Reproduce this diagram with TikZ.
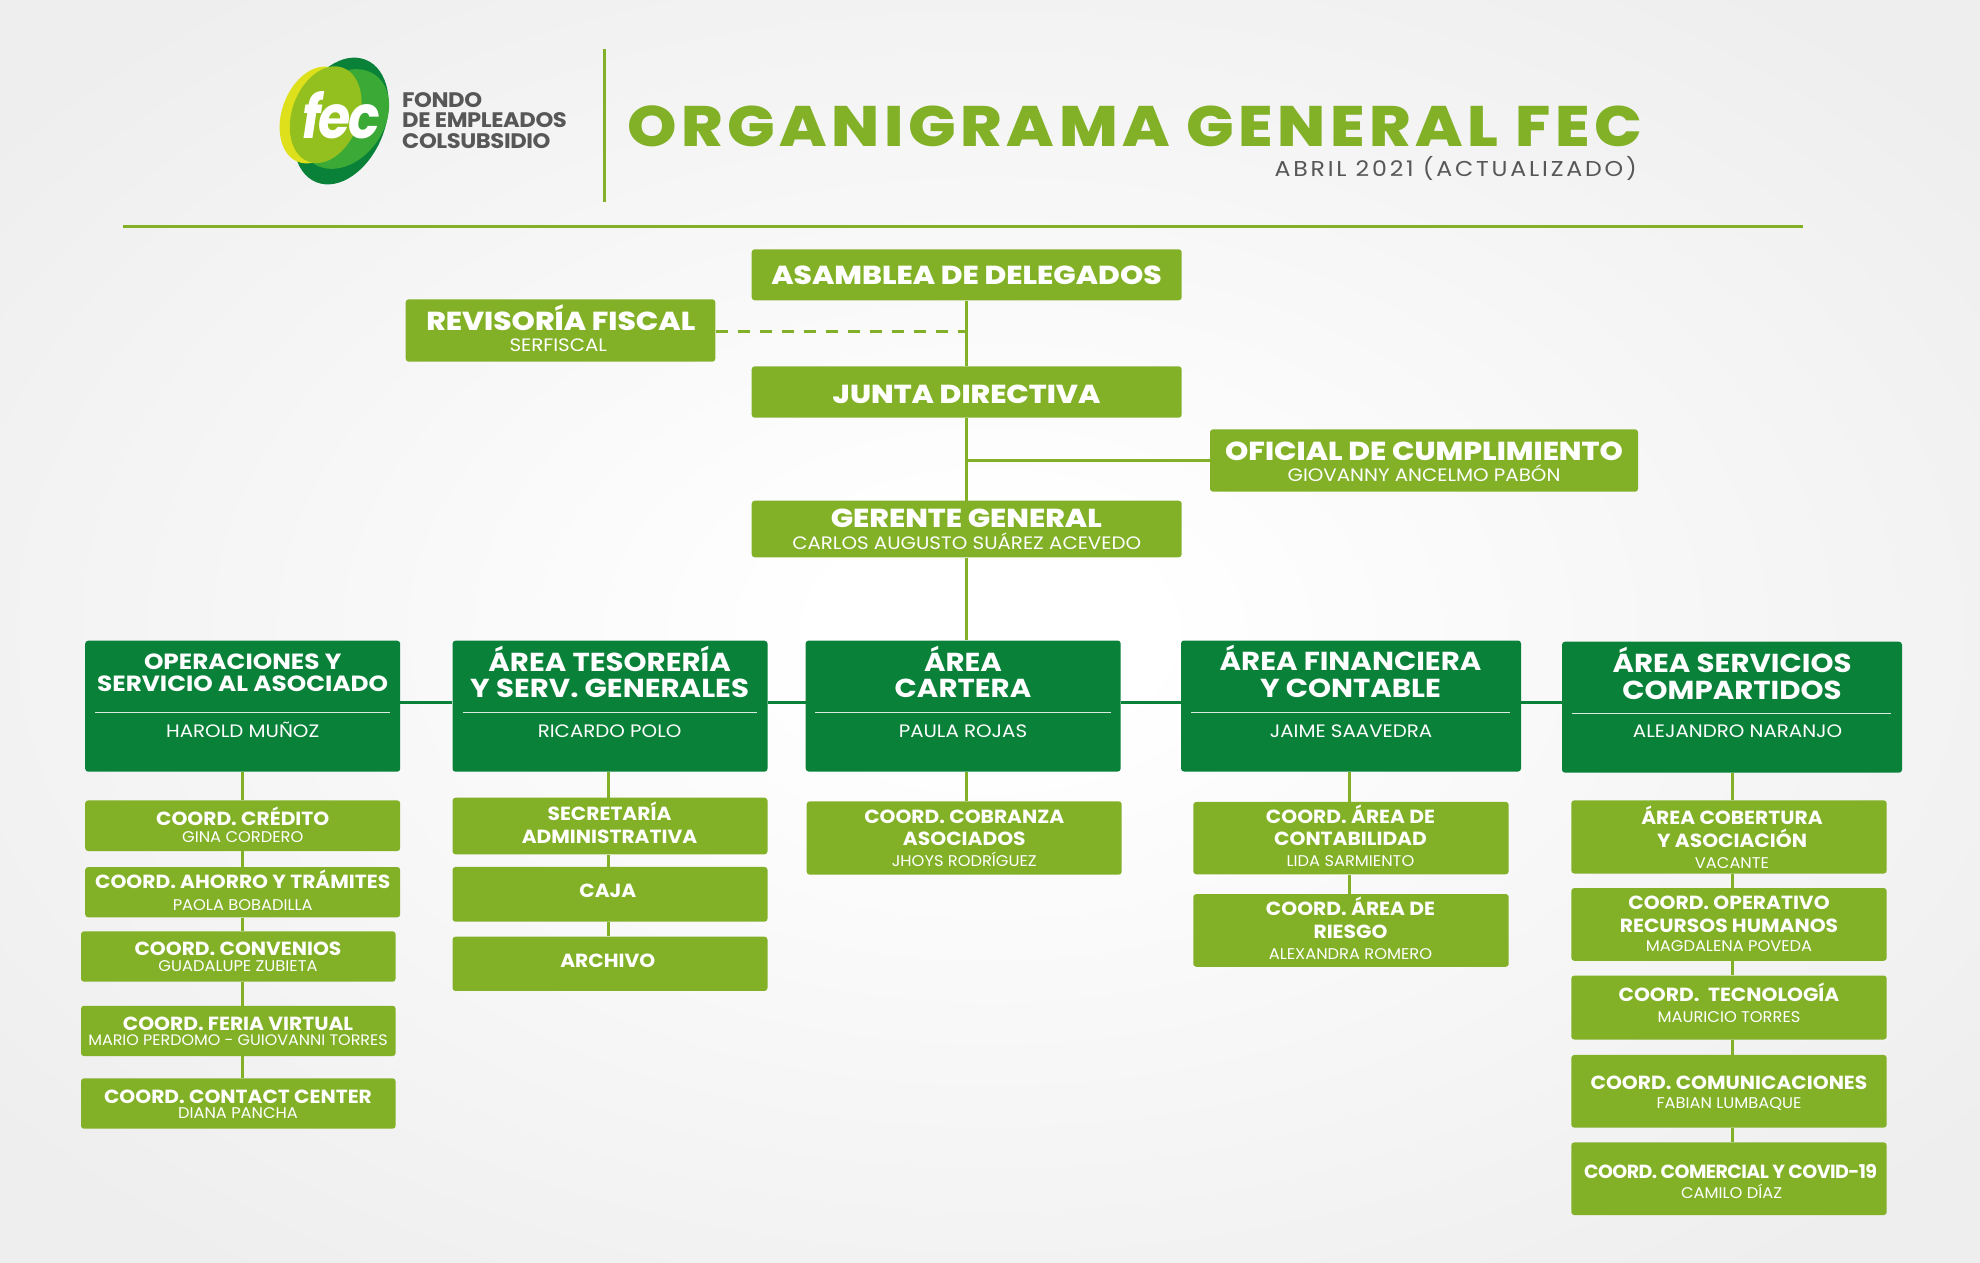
\documentclass[tikz,border=0pt]{standalone}
\usepackage{fontspec}
\setmainfont{Poppins}
\newfontfamily\titlefnt[LetterSpace=8,FakeStretch=1.104]{Poppins ExtraBold}
\newfontfamily\heavyfnt[FakeStretch=1.14]{Poppins ExtraBold}
\newfontfamily\areafnt[FakeStretch=1.125]{Poppins}
\newfontfamily\coordfnt[FakeStretch=1.065]{Poppins}
\newfontfamily\namefnt[FakeStretch=1.1]{Poppins}
\newfontfamily\smallfnt[FakeStretch=1.05]{Poppins}
\newfontfamily\datefnt[FakeStretch=1.1,LetterSpace=13]{Poppins}
\newfontfamily\logofnt[FakeStretch=0.87,LetterSpace=-4]{Poppins}
\newfontfamily\brandfnt[FakeStretch=1.08,LetterSpace=-2]{Poppins}
\newfontfamily\tightfnt[LetterSpace=-3]{Poppins}
\definecolor{fecLight}{HTML}{82B128}
\definecolor{fecDark}{HTML}{0A8139}
\definecolor{fecMid}{HTML}{3AA935}
\definecolor{fecOlive}{HTML}{93C01F}
\definecolor{fecYellow}{HTML}{DDE01A}
\definecolor{fecGrey}{HTML}{575757}
\definecolor{bgEdge}{HTML}{EEEEEE}
\pgfdeclareradialshading{bgshade}{\pgfpoint{0bp}{0bp}}{color(0bp)=(white); color(4bp)=(white); color(32bp)=(bgEdge); color(50bp)=(bgEdge)}
\tikzset{
  font={\fontsize{19pt}{22.5pt}\selectfont},
  lightbox/.style={fill=fecLight, rounded corners=3pt, inner sep=0pt},
  darkbox/.style={fill=fecDark, rounded corners=3pt, inner sep=0pt},
  toptxt/.style={text=white, anchor=base, align=center, inner sep=0pt, font={\heavyfnt\fontsize{26pt}{26.7pt}\selectfont}},
  areatxt/.style={text=white, anchor=base, align=center, inner sep=0pt, font={\areafnt\bfseries\fontsize{26pt}{26.7pt}\selectfont}},
  coordtxt/.style={text=white, anchor=base, align=center, inner sep=0pt, font={\coordfnt\bfseries\fontsize{19pt}{22.5pt}\selectfont}},
  nametxt/.style={text=white, anchor=base, inner sep=0pt, font={\namefnt\fontsize{18pt}{20pt}\selectfont}},
  subtxt/.style={text=white, anchor=base, inner sep=0pt, font={\smallfnt\fontsize{15.5pt}{18pt}\selectfont}},
  brandtxt/.style={anchor=base west, inner sep=0pt, text=fecGrey, font={\brandfnt\bfseries\fontsize{21pt}{21pt}\selectfont}},
  lightline/.style={draw=fecLight, line width=3pt},
  darkline/.style={draw=fecDark, line width=3pt},
  sepline/.style={draw=white!85!fecDark, line width=1pt}
}

\begin{document}
\begin{tikzpicture}[x=1pt, y=-1pt]
\useasboundingbox (0,0) rectangle (1980,1262);
\shade[shading=bgshade] (0,0) rectangle (1980,1262);

%% logo
\begin{scope}
	\fill[fecDark, shift={(341,121)}, rotate=68] (0,0) ellipse (66 and 44);
	\fill[fecMid, shift={(344,119)}, rotate=55] (0,0) ellipse (54 and 40);
	\fill[fecYellow, shift={(315.5,115)}, rotate=70] (0,0) ellipse (50 and 33.6);
	\fill[fecOlive, shift={(325.7,114.7)}, rotate=70] (0,0) ellipse (50 and 33.6);
\end{scope}
\node[anchor=base, inner sep=0pt, text=white, font={\logofnt\bfseries\itshape\fontsize{60pt}{60pt}\selectfont}] (fec) at (341,138) {fec};
\node[brandtxt] (fondo) at (402,107.3) {FONDO};
\node[brandtxt] (empleados) at (402,127.7) {DE EMPLEADOS};
\node[brandtxt] (colsubsidio) at (402,148.3) {COLSUBSIDIO};

%% title and the two rules of the header
\node[anchor=base east, inner sep=0pt, text=fecLight, font={\titlefnt\fontsize{57pt}{57pt}\selectfont}] (titulo) at (1642,146) {ORGANIGRAMA GENERAL FEC};
\node[anchor=base east, inner sep=0pt, text=fecGrey, font={\datefnt\fontsize{21.5pt}{24pt}\selectfont}] (fecha) at (1637,176.7) {ABRIL 2021 (ACTUALIZADO)};
\coordinate (ruleA) at (604.7,49.3);
\coordinate (ruleB) at (604.7,201.7);
\coordinate (ruleC) at (122.5,226.3);
\coordinate (ruleD) at (1803.3,226.3);
\draw[lightline] (ruleA) -- (ruleB);
\draw[lightline] (ruleC) -- (ruleD);

%% top of the chart
\node[lightbox, minimum width=430pt, minimum height=51pt] (asamblea) at (966.7,274.8) {};
\node[lightbox, minimum width=309.6pt, minimum height=62.4pt] (revisoria) at (560.5,330.5) {};
\node[lightbox, minimum width=430pt, minimum height=51.4pt] (junta) at (966.7,392) {};
\node[lightbox, minimum width=428pt, minimum height=62.4pt] (oficial) at (1424,460.5) {};
\node[lightbox, minimum width=430pt, minimum height=56.6pt] (gerente) at (966.7,529) {};
\node[toptxt] (asambleatxt) at (966.5,284.3) {ASAMBLEA DE DELEGADOS};
\node[toptxt] (revisoriatxt) at (560.8,330) {REVISORÍA FISCAL};
\node[nametxt] (revisorianame) at (558.3,351.7) {SERFISCAL};
\node[toptxt] (juntatxt) at (966.6,403.3) {JUNTA DIRECTIVA};
\node[toptxt] (oficialtxt) at (1424,460) {OFICIAL DE CUMPLIMIENTO};
\node[nametxt] (oficialname) at (1424,481.7) {GIOVANNY ANCELMO PABÓN};
\node[toptxt] (gerentetxt) at (966.3,527.7) {GERENTE GENERAL};
\node[nametxt] (gerentename) at (966.7,549.3) {CARLOS AUGUSTO SUÁREZ ACEVEDO};

%% the five areas
\node[darkbox, minimum width=315pt, minimum height=131pt] (operaciones) at (242.7,706.2) {};
\node[darkbox, minimum width=315pt, minimum height=131pt] (tesoreria) at (610,706.2) {};
\node[darkbox, minimum width=315pt, minimum height=131pt] (cartera) at (963.2,706) {};
\node[darkbox, minimum width=340pt, minimum height=131pt] (financiera) at (1351,706) {};
\node[darkbox, minimum width=340pt, minimum height=131pt] (servicios) at (1732,707.2) {};
\node[areatxt, font={\areafnt\bfseries\fontsize{22pt}{21.7pt}\selectfont}] (operacionestxt) at (242.7,691) {OPERACIONES Y\\SERVICIO AL ASOCIADO};
\node[areatxt] (tesoreriatxt) at (609.6,697.7) {ÁREA TESORERÍA\\Y SERV. GENERALES};
\node[areatxt] (carteratxt) at (963,697.7) {ÁREA\\CARTERA};
\node[areatxt] (financieratxt) at (1350.5,697.5) {ÁREA FINANCIERA\\Y CONTABLE};
\node[areatxt] (serviciostxt) at (1732,699) {ÁREA SERVICIOS\\COMPARTIDOS};
\node[nametxt] (operacionesname) at (242.7,737.7) {HAROLD MUÑOZ};
\node[nametxt] (tesorerianame) at (609.6,737.7) {RICARDO POLO};
\node[nametxt] (carteraname) at (963,737.7) {PAULA ROJAS};
\node[nametxt] (financieraname) at (1351,737.7) {JAIME SAAVEDRA};
\node[nametxt] (serviciosname) at (1737.6,737.7) {ALEJANDRO NARANJO};
\draw[sepline] (95.4,712.3) -- (390,712.3);
\draw[sepline] (462.7,712.3) -- (757,712.3);
\draw[sepline] (815.3,712.3) -- (1110.7,712.3);
\draw[sepline] (1191.3,712.3) -- (1510,712.3);
\draw[sepline] (1572.4,713.3) -- (1891.3,713.3);

%% first column
\node[lightbox, minimum width=315pt, minimum height=50.7pt] (credito) at (242.7,825.7) {};
\node[lightbox, minimum width=315pt, minimum height=50.3pt] (ahorro) at (242.7,892.2) {};
\node[lightbox, minimum width=314.6pt, minimum height=50.4pt] (convenios) at (238.3,956.5) {};
\node[lightbox, minimum width=314.6pt, minimum height=50.3pt] (feria) at (238.3,1030.9) {};
\node[lightbox, minimum width=314.6pt, minimum height=50.4pt] (contact) at (238.3,1103.5) {};
\node[coordtxt] (creditotxt) at (242.7,825.7) {COORD. CRÉDITO};
\node[subtxt] (creditoname) at (242.7,842.3) {GINA CORDERO};
\node[coordtxt] (ahorrotxt) at (242.7,888.3) {COORD. AHORRO Y TRÁMITES};
\node[subtxt] (ahorroname) at (242.7,910.3) {PAOLA BOBADILLA};
\node[coordtxt] (conveniostxt) at (238,955.3) {COORD. CONVENIOS};
\node[subtxt] (conveniosname) at (238,971.7) {GUADALUPE ZUBIETA};
\node[coordtxt] (feriatxt) at (238,1030) {COORD. FERIA VIRTUAL};
\node[subtxt, font={\smallfnt\fontsize{15.2pt}{18pt}\selectfont}] (feriname) at (238,1045.7) {MARIO PERDOMO - GUIOVANNI TORRES};
\node[coordtxt] (contacttxt) at (238,1103) {COORD. CONTACT CENTER};
\node[subtxt] (contactname) at (238,1118.7) {DIANA PANCHA};

%% second column
\node[lightbox, minimum width=315pt, minimum height=56.6pt] (secretaria) at (610,826) {};
\node[lightbox, minimum width=315pt, minimum height=54.7pt] (caja) at (610,894.3) {};
\node[lightbox, minimum width=315pt, minimum height=54.3pt] (archivo) at (610,963.8) {};
\node[coordtxt] (secretariatxt) at (609.5,843.3) {SECRETARÍA\\ADMINISTRATIVA};
\node[coordtxt] (cajatxt) at (607.8,897.7) {CAJA};
\node[coordtxt] (archivotxt) at (607.8,967.3) {ARCHIVO};

%% third column
\node[lightbox, minimum width=315pt, minimum height=73.4pt] (cobranza) at (964.2,838) {};
\node[coordtxt] (cobranzatxt) at (964.3,845.7) {COORD. COBRANZA\\ASOCIADOS};
\node[subtxt] (cobranzaname) at (964.3,866.7) {JHOYS RODRÍGUEZ};

%% fourth column
\node[lightbox, minimum width=315.4pt, minimum height=72.4pt] (contabilidad) at (1351,838.1) {};
\node[lightbox, minimum width=315.4pt, minimum height=72.8pt] (riesgo) at (1351,930.4) {};
\node[coordtxt] (contabilidadtxt) at (1350.5,845.8) {COORD. ÁREA DE\\CONTABILIDAD};
\node[subtxt] (contabilidadname) at (1350.5,866.3) {LIDA SARMIENTO};
\node[coordtxt] (riesgotxt) at (1350.5,938.3) {COORD. ÁREA DE\\RIESGO};
\node[subtxt] (riesgoname) at (1350.5,959.3) {ALEXANDRA ROMERO};

%% fifth column
\node[lightbox, minimum width=315.4pt, minimum height=73.2pt] (cobertura) at (1729,836.9) {};
\node[lightbox, minimum width=315.4pt, minimum height=72.8pt] (operativo) at (1729,924.4) {};
\node[lightbox, minimum width=315.4pt, minimum height=64pt] (tecnologia) at (1729,1007.5) {};
\node[lightbox, minimum width=315.4pt, minimum height=72.7pt] (comunicaciones) at (1729,1091.3) {};
\node[lightbox, minimum width=315.4pt, minimum height=72.7pt] (comercial) at (1729,1178.7) {};
\node[coordtxt] (coberturatxt) at (1732,847) {ÁREA COBERTURA\\Y ASOCIACIÓN};
\node[subtxt] (coberturaname) at (1732,868.3) {VACANTE};
\node[coordtxt] (operativotxt) at (1729,932.4) {COORD. OPERATIVO\\RECURSOS HUMANOS};
\node[subtxt] (operativoname) at (1729,951.8) {MAGDALENA POVEDA};
\node[coordtxt] (tecnologiatxt) at (1729,1001.2) {COORD.\ \ TECNOLOGÍA};
\node[subtxt] (tecnologianame) at (1729,1022.5) {MAURICIO TORRES};
\node[coordtxt] (comunicacionestxt) at (1729,1089.4) {COORD. COMUNICACIONES};
\node[subtxt] (comunicacionesname) at (1729,1108.7) {FABIAN LUMBAQUE};
\node[coordtxt, font={\tightfnt\bfseries\fontsize{19pt}{22.5pt}\selectfont}] (comercialtxt) at (1730.6,1178.7) {COORD. COMERCIAL Y COVID-19};
\node[subtxt] (comercialname) at (1731.6,1198) {CAMILO DÍAZ};

%% connectors
\coordinate (areas) at (0,702.6);
\coordinate (fiscal) at (0,331.3);
\coordinate (cumplimiento) at (0,460.3);
\draw[lightline] (asamblea.south) -- (junta.north);
\draw[lightline] (junta.south) -- (gerente.north);
\draw[lightline] (gerente.south) -- (gerente.south |- cartera.north);
\draw[lightline] (gerente.south |- cumplimiento) -- (oficial.west |- cumplimiento);
\draw[lightline, dash pattern=on 12pt off 10pt] (revisoria.east |- fiscal) -- (asamblea.south |- fiscal);
\draw[darkline] (operaciones.east |- areas) -- (tesoreria.west |- areas);
\draw[darkline] (tesoreria.east |- areas) -- (cartera.west |- areas);
\draw[darkline] (cartera.east |- areas) -- (financiera.west |- areas);
\draw[darkline] (financiera.east |- areas) -- (servicios.west |- areas);
\draw[lightline] (operaciones.south) -- (credito.north);
\draw[lightline] (credito.south) -- (ahorro.north);
\draw[lightline] (ahorro.south) -- (ahorro.south |- convenios.north);
\draw[lightline] (ahorro.south |- convenios.south) -- (ahorro.south |- feria.north);
\draw[lightline] (ahorro.south |- feria.south) -- (ahorro.south |- contact.north);
\draw[lightline] ([xshift=-2pt]tesoreria.south) -- ([xshift=-2pt]secretaria.north);
\draw[lightline] ([xshift=-2pt]secretaria.south) -- ([xshift=-2pt]caja.north);
\draw[lightline] ([xshift=-2pt]caja.south) -- ([xshift=-2pt]archivo.north);
\draw[lightline] (gerente.south |- cartera.south) -- (gerente.south |- cobranza.north);
\draw[lightline] ([xshift=-2pt]financiera.south) -- ([xshift=-2pt]contabilidad.north);
\draw[lightline] ([xshift=-2pt]contabilidad.south) -- ([xshift=-2pt]riesgo.north);
\draw[lightline] (servicios.south) -- (servicios.south |- cobertura.north);
\draw[lightline] (servicios.south |- cobertura.south) -- (servicios.south |- operativo.north);
\draw[lightline] (servicios.south |- operativo.south) -- (servicios.south |- tecnologia.north);
\draw[lightline] (servicios.south |- tecnologia.south) -- (servicios.south |- comunicaciones.north);
\draw[lightline] (servicios.south |- comunicaciones.south) -- (servicios.south |- comercial.north);
\end{tikzpicture}
\end{document}
